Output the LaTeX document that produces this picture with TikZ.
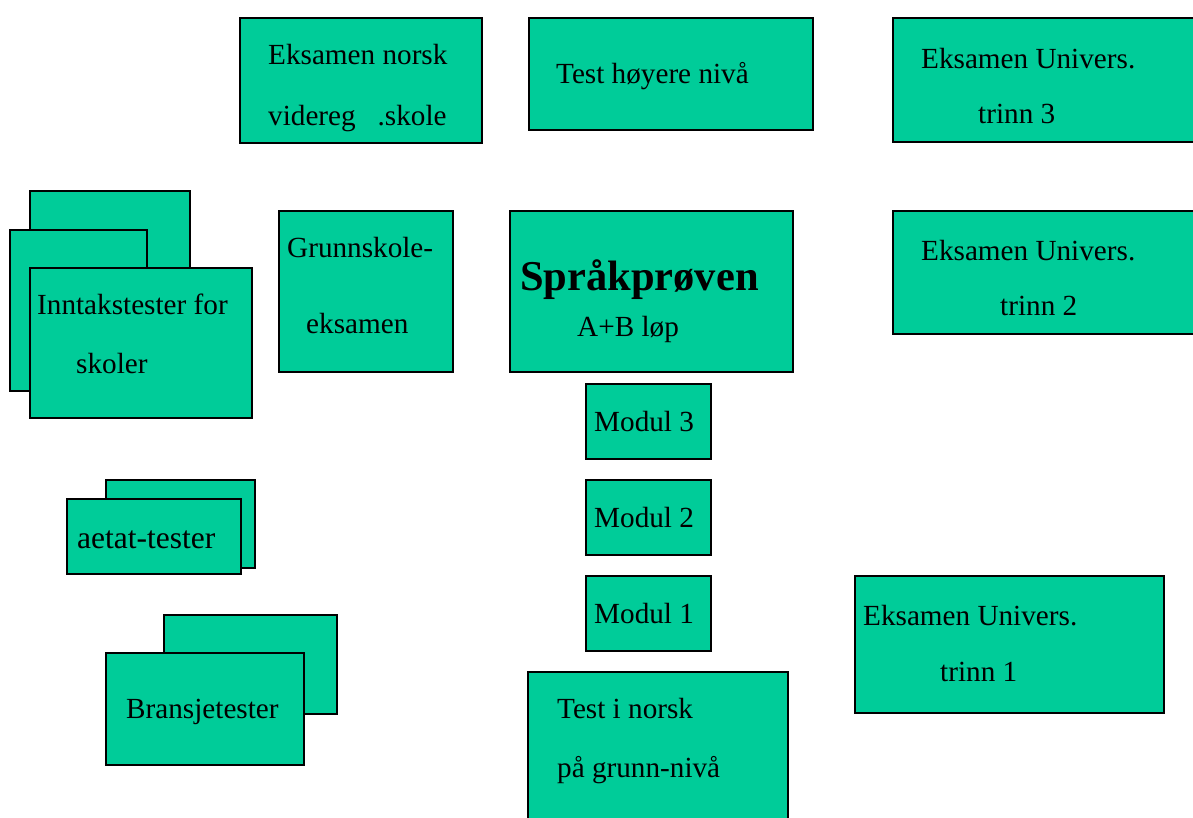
\documentclass[tikz,border=0pt]{standalone}
\usepackage{fontspec}
\setmainfont{Liberation Serif}
\usetikzlibrary{fit}

\definecolor{cardgreen}{RGB}{0,204,153}

\tikzset{
  card/.style={draw=black, line width=1.6pt, fill=cardgreen, inner sep=0pt, outer sep=0pt},
  txt/.style={anchor=base west, inner sep=0pt, font=\fontsize{29.2}{35}\selectfont},
  bigtxt/.style={txt, font=\fontsize{42.5}{50}\selectfont\bfseries}
}

\begin{document}
\begin{tikzpicture}[x=1pt, y=-1pt]

\useasboundingbox (0,0) rectangle (1193,817);
\clip (0,0) rectangle (1193,817);

% top row
\node [card, fit={(240,18) (482,143)}] (norsk) {};
\node [card, fit={(529,18) (813,130)}] (hoyere) {};
\node [card, fit={(893,18) (1205,142)}] (trinn-3) {};

\node [txt] (norsk-a) at (268,64) {Eksamen norsk};
\node [txt] (norsk-b) at (268,125) {videreg\hspace{0.75em}.skole};
\node [txt] (hoyere-a) at (556,83) {Test høyere nivå};
\node [txt] (trinn-3-a) at (921,68) {Eksamen Univers.};
\node [txt] (trinn-3-b) at (978,123) {trinn 3};

% stack of school tests
\node [card, fit={(30,191) (190,340)}] (inntak-back1) {};
\node [card, fit={(10,230) (147,391)}] (inntak-back2) {};
\node [card, fit={(30,268) (252,418)}] (inntak) {};

\node [txt] (inntak-a) at (37,314) {Inntakstester for};
\node [txt] (inntak-b) at (76,373) {skoler};

% middle row
\node [card, fit={(279,211) (453,372)}] (grunnskole) {};
\node [card, fit={(510,211) (793,372)}] (sprak) {};
\node [card, fit={(893,211) (1205,334)}] (trinn-2) {};

\node [txt] (grunnskole-a) at (287,257) {Grunnskole-};
\node [txt] (grunnskole-b) at (306,333) {eksamen};
\node [bigtxt] (sprak-a) at (520,290) {Språkprøven};
\node [txt] (sprak-b) at (577,336) {A+B løp};
\node [txt] (trinn-2-a) at (921,260) {Eksamen Univers.};
\node [txt] (trinn-2-b) at (1000,315) {trinn 2};

% modules
\foreach \m/\ya in {3/384, 2/480, 1/576}
{
  \node [card, fit={(586,\ya) (711,\ya+75)}] (modul-\m) {};
  \node [txt] (modul-\m-a) at (594,\ya+47) {Modul \m};
}

% aetat and bransje stacks
\node [card, fit={(106,480) (255,568)}] (aetat-back) {};
\node [card, fit={(67,499) (241,574)}] (aetat) {};
\node [txt, font=\fontsize{31.5}{38}\selectfont] (aetat-a) at (77,548) {aetat-tester};

\node [card, fit={(164,615) (337,714)}] (bransje-back) {};
\node [card, fit={(106,653) (304,765)}] (bransje) {};
\node [txt] (bransje-a) at (126,718) {Bransjetester};

% bottom row
\node [card, fit={(528,672) (788,830)}] (grunn) {};
\node [txt] (grunn-a) at (557,718) {Test i norsk};
\node [txt] (grunn-b) at (557,777) {på grunn-nivå};

\node [card, fit={(855,576) (1164,713)}] (trinn-1) {};
\node [txt] (trinn-1-a) at (863,625) {Eksamen Univers.};
\node [txt] (trinn-1-b) at (940,681) {trinn 1};

\end{tikzpicture}
\end{document}
